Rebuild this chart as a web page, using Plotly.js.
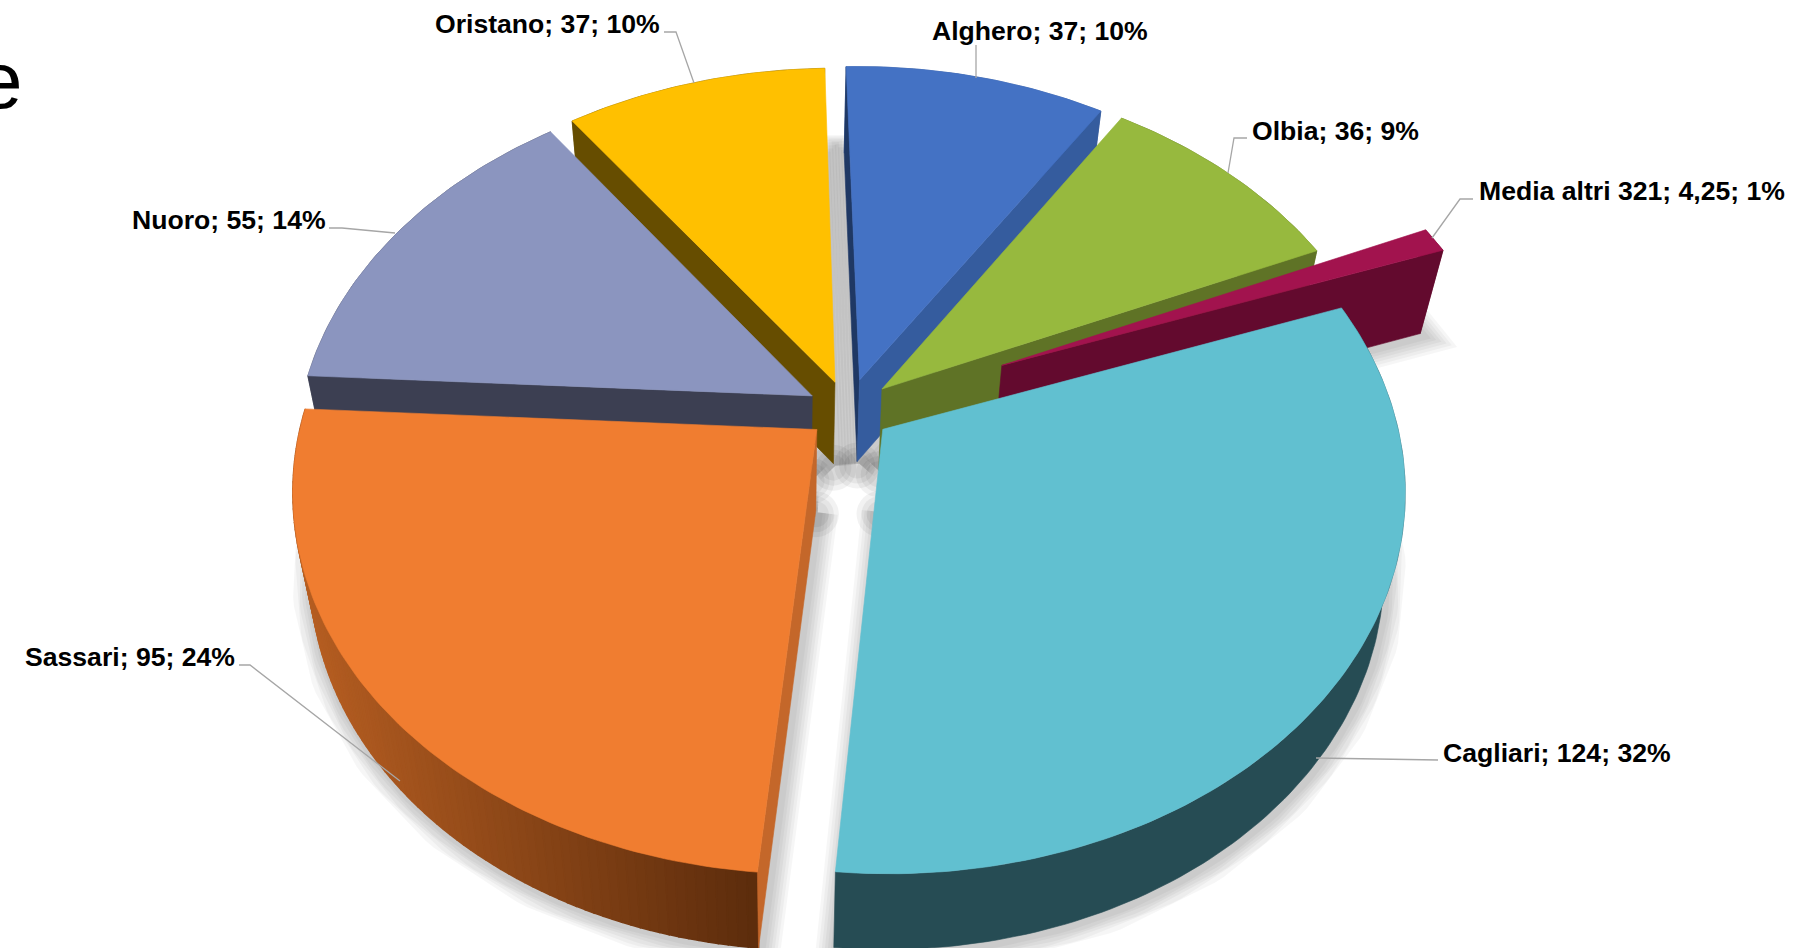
<!DOCTYPE html>
<html>
<head>
<meta charset="utf-8">
<script src="https://cdn.plot.ly/plotly-3.0.1.min.js"></script>
<style>html,body{margin:0;padding:0;background:#fff;overflow:hidden}#chart{width:1816px;height:948px}</style>
</head>
<body>
<div id="chart"></div>
<script>
// ---- data, clockwise from 12 o'clock ----
const categories = ["Alghero", "Olbia", "Media altri 321", "Cagliari", "Sassari", "Nuoro", "Oristano"];
const values = [37, 36, 4.25, 124, 95, 55, 37];

// ---- styling ----
const topColors  = ["#4472C4", "#97B93E", "#A2134E", "#61C0D0", "#F07D30", "#8B95BF", "#FFC000"];
const wallColors = ["#355C9E", "#5F7326", "#630A2E", "#264C54", "#C4672A", "#3C3F52", "#664D00"];
const pulls      = [0.085, 0.088, 0.33, 0.085, 0.08, 0.08, 0.08];
const drawOrder  = [0, 1, 6, 5, 2, 3, 4];
// which radial cut faces show: start edge / end edge
const startCut = [true, false, false, false, true, true, true];
const endCut   = [true, true, true, false, false, false, false];
const startCutColors = {0: "#1F3864"};
const labelLeft = [930, 1250, 1477, 1441, 23, 130, 433];
const labelMid  = [31, 131, 191, 753, 657, 220, 24];
const leaderBreaks = [
  [[976, 45], [976, 78]],
  [[1247, 138], [1234, 138], [1228, 173]],
  [[1473, 199], [1460, 199], [1432, 238]],
  [[1438, 760], [1316, 758]],
  [[239, 665], [250, 665], [400, 781]],
  [[329, 228], [342, 228], [395, 233]],
  [[664, 32], [676, 32], [694, 83]]
];

// ---- projection of the tilted disc ----
const CX = 848, CY = 410, AX = 512, BY = 370, G = 0.153, ROT = -2, VPX = 790, SLOPE = 0.035;
const SHEAR = 4, TILT = 0.006;
const rad = d => d * Math.PI / 180;
function surf(theta, pull, mid, r) {
  const u = r * Math.sin(rad(theta)) + pull * Math.sin(rad(mid));
  const v = r * Math.cos(rad(theta)) + pull * Math.cos(rad(mid));
  const d = 1 + G * v;
  const x = CX + (AX * u + SHEAR * v) / d;
  return {x, y: CY - BY * v / d + TILT * (x - CX), v};
}
function drop(p) {
  return {x: p.x + (VPX - p.x) * SLOPE, y: p.y + 81 + 5 * p.v};
}

const total = values.reduce((a, b) => a + b, 0);
let cursor = ROT;
const slices = values.map((val, i) => {
  const start = cursor, end = cursor + val / total * 360;
  cursor = end;
  return {i, start, end, mid: (start + end) / 2, pull: pulls[i]};
});
function arc(s, from, to) {
  const n = Math.max(2, Math.ceil(Math.abs(to - from) / 1));
  const pts = [];
  for (let k = 0; k <= n; k++) pts.push(surf(from + (to - from) * k / n, s.pull, s.mid, 1));
  return pts;
}
function apex(s) { return surf(0, s.pull, s.mid, 0); }

const traces = [];
function poly(pts, color, name, lw) {
  traces.push({
    type: "scatter", mode: "lines", name,
    x: pts.map(p => p.x).concat(pts[0].x), y: pts.map(p => p.y).concat(pts[0].y),
    fill: "toself", fillcolor: color,
    line: {color, width: lw || 0.6}, hoverinfo: "skip", showlegend: false
  });
}

// soft shadow: the floor outline of every slice, stroked in layers
const sx = [], sy = [];
slices.forEach(s => {
  const outline = [apex(s)].concat(arc(s, s.start, s.end)).map(drop);
  outline.push(outline[0]);
  outline.forEach(p => { sx.push(p.x + 2); sy.push(p.y + 2); });
  sx.push(null); sy.push(null);
});
[40, 34, 28, 22, 16, 10].forEach(w => traces.push({
  type: "scatter", mode: "lines", x: sx, y: sy, connectgaps: false,
  line: {color: "rgba(0,0,0,0.035)", width: w}, hoverinfo: "skip", showlegend: false
}));
// the shadow gathers where the slice tips meet
const tips = slices.map(s => drop(apex(s)));
[46, 36, 26].forEach(size => traces.push({
  type: "scatter", mode: "markers", x: tips.map(p => p.x), y: tips.map(p => p.y + 4),
  marker: {size, color: "rgba(0,0,0,0.05)", line: {width: 0}}, hoverinfo: "skip", showlegend: false
}));

function lerpHex(a, b, t) {
  const pa = [1, 3, 5].map(k => parseInt(a.substr(k, 2), 16));
  const pb = [1, 3, 5].map(k => parseInt(b.substr(k, 2), 16));
  return "rgb(" + pa.map((c, k) => Math.round(c + (pb[k] - c) * t)).join(",") + ")";
}

drawOrder.forEach(i => {
  const s = slices[i], name = categories[i], a = apex(s);
  const rim = arc(s, s.start, s.end);
  if (categories[i] === "Sassari") {
    // outer wall shades from left to right
    for (let k = rim.length - 2; k >= 0; k--) {
      const t = Math.min(1, Math.max(0, (rim[k].x - 292) / (762 - 292)));
      const col = lerpHex("#B85F22", "#5C2C0C", t);
      poly([rim[k], rim[k + 1], drop(rim[k + 1]), drop(rim[k])], col, name, 1.6);
    }
  } else {
    poly(rim.concat(rim.slice().reverse().map(drop)), wallColors[i], name);
  }
  if (startCut[i]) {
    const e = surf(s.start, s.pull, s.mid, 1);
    poly([a, e, drop(e), drop(a)], startCutColors[i] || wallColors[i], name);
  }
  if (endCut[i]) {
    const e = surf(s.end, s.pull, s.mid, 1);
    poly([a, e, drop(e), drop(a)], wallColors[i], name);
  }
  poly([a].concat(rim), topColors[i], name);
});

// leader lines
leaderBreaks.forEach(b => traces.push({
  type: "scatter", mode: "lines", x: b.map(p => p[0]), y: b.map(p => p[1]),
  line: {color: "#A6A6A6", width: 1.3}, hoverinfo: "skip", showlegend: false
}));

// labels
const fmt = v => String(v).replace(".", ",");
const annotations = categories.map((c, i) => ({
  xref: "x", yref: "y", x: labelLeft[i], y: labelMid[i], xanchor: "left", yanchor: "middle",
  showarrow: false, align: "left",
  text: "<b>" + c + "; " + fmt(values[i]) + "; " + Math.round(values[i] / total * 100) + "%</b>",
  font: {family: "Liberation Sans, Arial, sans-serif", size: 26.6, color: "#000"}
}));
annotations.push({
  xref: "x", yref: "y", x: 25, y: 80, xanchor: "right", yanchor: "middle", showarrow: false,
  text: "e", font: {family: "Liberation Sans, Arial, sans-serif", size: 80, color: "#000"}
});

Plotly.newPlot("chart", traces, {
  width: 1816, height: 948,
  margin: {l: 0, r: 0, t: 0, b: 0},
  paper_bgcolor: "#fff", plot_bgcolor: "#fff",
  showlegend: false,
  xaxis: {range: [0, 1816], visible: false, fixedrange: true},
  yaxis: {range: [948, 0], visible: false, fixedrange: true},
  annotations
}, {displayModeBar: false, staticPlot: true});
</script>
</body>
</html>
